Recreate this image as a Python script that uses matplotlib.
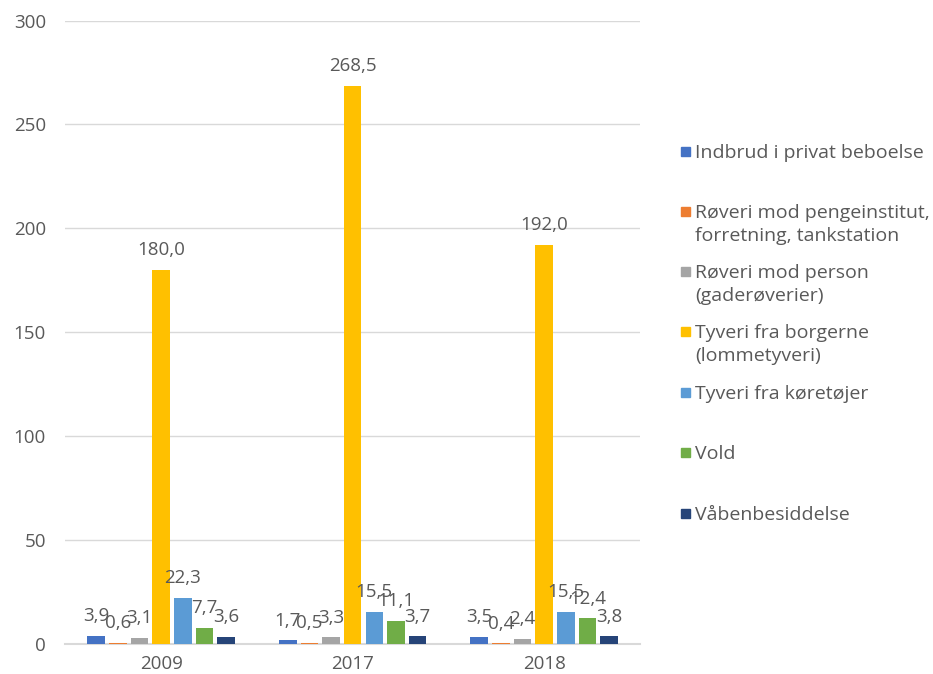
import matplotlib.pyplot as plt
import numpy as np
from matplotlib.patches import Rectangle

years = ['2009', '2017', '2018']
series = ['Indbrud i privat beboelse',
          'Røveri mod pengeinstitut,\nforretning, tankstation',
          'Røveri mod person\n(gaderøverier)',
          'Tyveri fra borgerne\n(lommetyveri)',
          'Tyveri fra køretøjer',
          'Vold',
          'Våbenbesiddelse']
indbrud = [3.9, 1.7, 3.5]
roeveri_penge = [0.6, 0.5, 0.4]
roeveri_person = [3.1, 3.3, 2.4]
lommetyveri = [180.0, 268.5, 192.0]
koeretoejer = [22.3, 15.5, 15.5]
vold = [7.7, 11.1, 12.4]
vaaben = [3.6, 3.7, 3.8]
values = [indbrud, roeveri_penge, roeveri_person, lommetyveri, koeretoejer, vold, vaaben]
colors = ['#4472C4', '#ED7D31', '#A5A5A5', '#FFC000', '#5B9BD5', '#70AD47', '#264478']

plt.rcParams['font.family'] = ['Open Sans', 'DejaVu Sans']
txt = '#595959'

fig = plt.figure(figsize=(9.33, 6.74), dpi=100)
ax = fig.add_axes([0.07, 0.0445, 0.616, 0.925])

x = np.arange(len(years))
slot = 0.113
bw = 0.092
for i, (vals, c) in enumerate(zip(values, colors)):
    pos = x + (i - 3) * slot
    ax.bar(pos, vals, width=bw, color=c, zorder=3)
    for p, v in zip(pos, vals):
        ax.annotate(f'{v:.1f}'.replace('.', ','), (p, v), xytext=(0, 10.5),
                    textcoords='offset points', ha='center', va='baseline',
                    fontsize=13.5, color=txt)

ax.set_ylim(0, 300)
ax.set_xlim(-0.5, 2.5)
ax.set_yticks(range(0, 301, 50))
ax.set_xticks(x)
ax.set_xticklabels(years)
ax.tick_params(axis='both', length=0, labelsize=13.5, labelcolor=txt)
ax.tick_params(axis='y', pad=14)
ax.tick_params(axis='x', pad=8)
ax.grid(axis='y', color='#D9D9D9', linewidth=1, zorder=0)
for s in ['top', 'right', 'left']:
    ax.spines[s].set_visible(False)
ax.spines['bottom'].set_color('#D9D9D9')
ax.spines['bottom'].set_linewidth(1.5)

# legend drawn by hand, line by line
W, H = 933, 674
centers = [151, 211, 271, 331, 392, 452, 513]
for lab, c, yc in zip(series, colors, centers):
    fig.add_artist(Rectangle((681 / W, 1 - (yc + 4.5) / H), 9 / W, 9 / H,
                             transform=fig.transFigure, color=c))
    for k, line in enumerate(lab.split('\n')):
        fig.text(695 / W, 1 - (yc + 23 * k) / H, line, ha='left',
                 va='center_baseline', fontsize=14, color=txt)

fig.savefig('out.png', dpi=100)
